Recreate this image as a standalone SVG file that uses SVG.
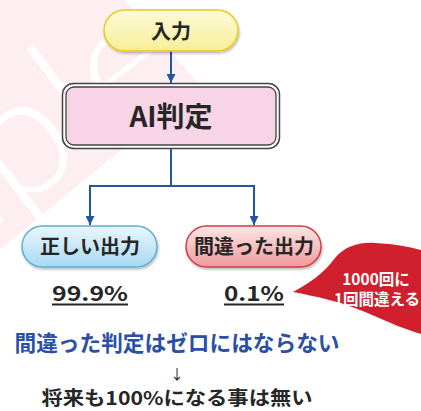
<svg xmlns="http://www.w3.org/2000/svg" width="421" height="411" viewBox="0 0 421 411">
<defs>
<linearGradient id="gY" x1="0" y1="0" x2="0" y2="1"><stop offset="0" stop-color="#fdfbd8"/><stop offset="1" stop-color="#f7ee98"/></linearGradient>
<linearGradient id="gB" x1="0" y1="0" x2="0" y2="1"><stop offset="0" stop-color="#eaf7fd"/><stop offset="1" stop-color="#a6d9f1"/></linearGradient>
<linearGradient id="gR" x1="0" y1="0" x2="0" y2="1"><stop offset="0" stop-color="#fde6e6"/><stop offset="1" stop-color="#f09a9a"/></linearGradient>
<filter id="sh" x="-10%" y="-20%" width="120%" height="150%"><feDropShadow dx="1" dy="2" stdDeviation="1.2" flood-color="#000" flood-opacity="0.25"/></filter>
<marker id="ah" viewBox="0 0 10 10" refX="10" refY="5" markerWidth="9" markerHeight="9" markerUnits="userSpaceOnUse" orient="auto"><path d="M0,0 L10,5 L0,10 Z" fill="#2456a6"/></marker>
<style>
.t{font-family:"Noto Sans CJK JP","Noto Sans",sans-serif;font-weight:bold;text-anchor:middle;fill:#262626}
.w{fill:#fff}
.c{fill:none;stroke:#2456a6;stroke-width:2}
</style>
</defs>
<g id="watermark">
<polygon points="-20,-20 107,-20 200,85 -20,266" fill="#fdeef1"/>
<text x="190" y="81" transform="rotate(-37 190 81)" font-family="Lato,'Liberation Sans',sans-serif" font-weight="300" font-size="170" text-anchor="end" fill="#ffffff">Sample</text>
</g>
<g id="connectors">
<line class="c" x1="171" y1="51" x2="171" y2="83" marker-end="url(#ah)"/>
<polyline class="c" points="171,148 171,186 90,186 90,225" marker-end="url(#ah)"/>
<polyline class="c" points="171,186 254,186 254,225" marker-end="url(#ah)"/>
</g>
<g id="node-input">
<rect x="104" y="10" width="134" height="41" rx="20.5" fill="url(#gY)" stroke="#ecc817" stroke-width="1.5" filter="url(#sh)"/>
<text class="t" x="171" y="39" font-size="20">入力</text>
</g>
<g id="node-ai">
<rect x="62.5" y="83.5" width="217" height="65" rx="11" fill="#fff" stroke="#444" stroke-width="1.5"/>
<rect x="66" y="87" width="210" height="58" rx="8" fill="#f7d5e6" stroke="#444" stroke-width="1.3"/>
<text class="t" x="171" y="127" font-size="28">AI判定</text>
</g>
<g id="node-correct">
<rect x="22" y="226" width="135" height="41" rx="20.5" fill="url(#gB)" stroke="#5aafd6" stroke-width="1.5" filter="url(#sh)"/>
<text class="t" x="90" y="254" font-size="20">正しい出力</text>
</g>
<g id="node-wrong">
<rect x="186" y="226" width="135" height="41" rx="20.5" fill="url(#gR)" stroke="#d33a48" stroke-width="1.5" filter="url(#sh)"/>
<text class="t" x="254" y="254" font-size="20">間違った出力</text>
</g>
<g id="pct-correct">
<text class="t" x="90" y="301" font-size="20" textLength="76" lengthAdjust="spacingAndGlyphs">99.9%</text>
<line x1="52" y1="304.5" x2="128" y2="304.5" stroke="#262626" stroke-width="2"/>
</g>
<g id="pct-wrong">
<text class="t" x="254" y="301" font-size="20" textLength="60" lengthAdjust="spacingAndGlyphs">0.1%</text>
<line x1="224" y1="304.5" x2="284" y2="304.5" stroke="#262626" stroke-width="2"/>
</g>
<g id="callout">
<path d="M293,292 C310,283 325,272 335,258 C345,246 360,242 375,243 C395,244 410,247 421,250 L421,334 C400,328 380,318 360,310 C340,302 315,296 293,292 Z" fill="#d0202e"/>
<text class="t w" x="376" y="285" font-size="15.5">1000回に</text>
<text class="t w" x="377" y="305" font-size="15.5">1回間違える</text>
</g>
<g id="conclusion">
<text class="t" x="177" y="351" font-size="22" style="fill:#2a4fa6" textLength="325" lengthAdjust="spacingAndGlyphs">間違った判定はゼロにはならない</text>
<text class="t" x="177" y="379" font-size="14" style="font-weight:normal">↓</text>
<text class="t" x="177" y="405" font-size="19" textLength="271" lengthAdjust="spacingAndGlyphs">将来も100%になる事は無い</text>
</g>
</svg>
